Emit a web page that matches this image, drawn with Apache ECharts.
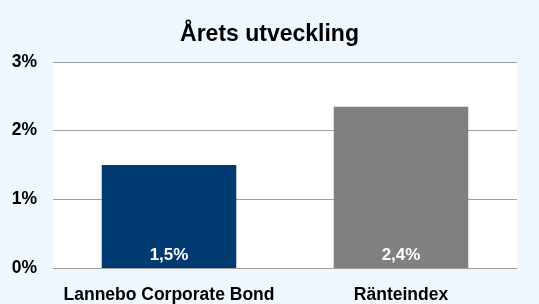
<!DOCTYPE html>
<html>
<head>
<meta charset="utf-8">
<script src="https://cdn.jsdelivr.net/npm/echarts@6/dist/echarts.min.js"></script>
<style>
  html, body { margin: 0; padding: 0; background: #eef7fd; }
  #chart { width: 539px; height: 304px; }
</style>
</head>
<body>
<div id="chart"></div>
<script>
const categories = ['Lannebo Corporate Bond', 'Ränteindex'];
const values = [1.5, 2.35];
const valueLabels = ['1,5%', '2,4%'];
const barColors = ['#003a70', '#808080'];
const yTicks = [0, 1, 2, 3];

const chart = echarts.init(document.getElementById('chart'));
chart.setOption({
    backgroundColor: '#eef7fd',
    animation: false,
    title: {
        text: 'Årets utveckling',
        left: 'center',
        top: 18,
        textStyle: { fontFamily: 'Liberation Sans', fontSize: 23, fontWeight: 'bold', color: '#000' }
    },
    grid: { left: 53, right: 22, top: 62, bottom: 34, backgroundColor: '#fff', show: true, borderWidth: 0 },
    xAxis: {
        type: 'category',
        data: categories,
        axisTick: { show: false },
        axisLine: { show: false },
        axisLabel: {
            interval: 0, hideOverlap: false,
            fontFamily: 'Liberation Sans', fontSize: 17.5, fontWeight: 'bold', color: '#000', margin: 18
        }
    },
    yAxis: {
        type: 'value',
        min: yTicks[0],
        max: yTicks[yTicks.length - 1],
        interval: 1,
        axisLabel: {
            fontFamily: 'Liberation Sans', fontSize: 17.5, fontWeight: 'bold', color: '#000', margin: 16,
            formatter: v => v + '%'
        },
        splitLine: { lineStyle: { color: '#a0a0a0', width: 1 } }
    },
    series: [{
        type: 'bar',
        barWidth: '58%',
        data: values.map((v, i) => ({ value: v, itemStyle: { color: barColors[i] } })),
        label: {
            show: true,
            position: 'insideBottom',
            distance: 4,
            formatter: p => valueLabels[p.dataIndex],
            fontFamily: 'Liberation Sans', fontSize: 17, fontWeight: 'bold', color: '#fff'
        }
    }]
});
</script>
</body>
</html>
